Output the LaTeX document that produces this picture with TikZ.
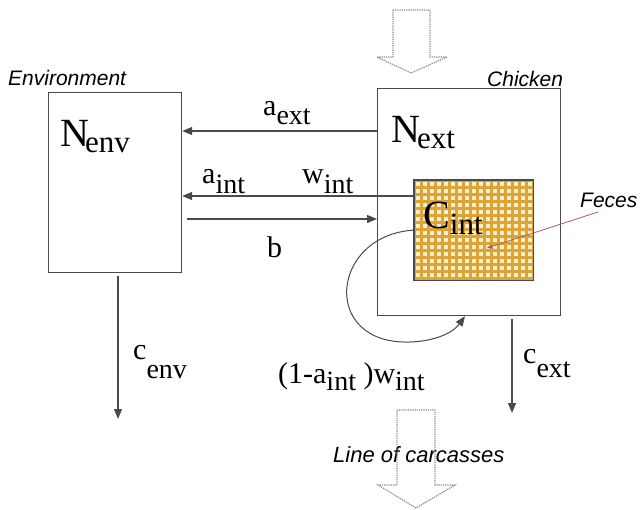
\documentclass[tikz,border=0pt]{standalone}
\usepackage{fontspec}
\setmainfont{Liberation Serif}
\newfontfamily\tagfont{Liberation Sans}
\usepackage{tikz}
\usetikzlibrary{arrows.meta,positioning}

\definecolor{linegray}{HTML}{4A4A4A}
\definecolor{feceslight}{HTML}{FBF0C4}
\definecolor{fecesdark}{HTML}{DCA33A}
\definecolor{pointer}{HTML}{A55A78}
\definecolor{hollowgray}{HTML}{8C8C8C}

% big state symbols (N, C) and flow symbols (a, c, w) with lowered index
\newcommand{\bigsub}[3][0pt]{\fontsize{40}{44}\selectfont #2\kern#1\raisebox{-6pt}{\fontsize{31}{34}\selectfont #3}}
\newcommand{\flowsub}[3][9pt]{\fontsize{30}{34}\selectfont #2\raisebox{-#1}{\fontsize{28}{32}\selectfont #3}}

\begin{document}
\begin{tikzpicture}[
    x=1pt, y=-1pt,
    box/.style={rectangle, draw=linegray, line width=1.2pt, inner sep=0pt, anchor=north west},
    arr/.style={-{Triangle[length=10pt,width=8pt]}, draw=linegray, line width=1.2pt},
    lbl/.style={anchor=base west, inner sep=0pt},
    tag/.style={anchor=base west, inner sep=0pt, font=\tagfont\itshape\fontsize{21}{25}\selectfont},
    ptr/.style={-{Stealth[length=6pt,width=5pt]}, draw=pointer, line width=0.8pt},
    hollow/.style={draw=hollowgray, densely dotted, line width=1.2pt}
]
    \useasboundingbox (0,0) rectangle (642,509);

    % compartments
    \node[box, minimum width=133pt, minimum height=180pt] (env) at (48,92) {};
    \node[box, minimum width=183pt, minimum height=227pt] (chicken) at (377,88) {};
    \node[box, draw=none, fill=fecesdark, minimum width=118pt, minimum height=99pt] (cint) at (414,180) {};
    \begin{scope}
        \clip (cint.north west) rectangle (cint.south east);
        \foreach \i in {0,...,16}
            \foreach \j in {0,...,14}
                \fill[feceslight] ({414+\i*7+1.5},{180+\j*7+1.5}) rectangle ++(4,4);
    \end{scope}
    \draw[linegray, line width=1.2pt] (cint.north west) rectangle (cint.south east);

    % titles
    \node[tag] (envtag) at (8,85) {Environment};
    \node[tag] (chickentag) at (487,86) {Chicken};
    \node[tag] (feces) at (580,207) {Feces};
    \node[tag, font=\tagfont\itshape\fontsize{22}{26}\selectfont] (carcass) at (333,462) {Line of carcasses};

    % state symbols
    \node[lbl] (nenv) at (60,146) {\bigsub[-4pt]{N}{env}};
    \node[lbl] (next) at (391,142) {\bigsub[-3pt]{N}{ext}};
    \node[lbl] (cintlbl) at (423,228) {\bigsub{C}{int}};

    % flow symbols
    \node[lbl] (aext) at (263,115) {\flowsub{a}{ext}};
    \node[lbl] (aint) at (202,183) {\flowsub[10pt]{a}{int}};
    \node[lbl] (wint) at (302,183) {\flowsub[10pt]{w}{int}};
    \node[lbl] (blbl) at (267,257) {\fontsize{30}{34}\selectfont b};
    \node[lbl] (cenv) at (133,359) {\flowsub[19pt]{c}{env}};
    \node[lbl] (cext) at (523,363) {\flowsub[14pt]{c}{ext}};
    \node[lbl] (leak) at (278,383) {\flowsub[7pt]{(1-a}{int}\fontsize{30}{34}\selectfont\ )\flowsub[7pt]{w}{int}};

    % flows
    \coordinate (envsink) at (118,419);
    \coordinate (chksink) at (512,413);
    \coordinate (fecespt) at (487,248);
    \draw[arr] (chicken.west |- 0,131) -- (env.east |- 0,131);
    \draw[arr] (cint.west |- 0,196) -- (env.east |- 0,196);
    \draw[arr, shorten <=5pt] (env.east |- 0,219) -- (chicken.west |- 0,219);
    \draw[arr, shorten <=3pt] (env.south -| envsink) -- (envsink);
    \draw[arr, shorten <=3pt] (chicken.south -| chksink) -- (chksink);
    \draw[arr, line width=1pt] (cint.west) .. controls (330,235) and (320,345) .. (410,342)
        .. controls (440,341) and (455,330) .. (chicken.south -| 465,0);
    \draw[ptr] ([xshift=18pt,yshift=-5pt]feces.base west) -- (fecespt);

    % in and out of the chicken
    \draw[hollow] (393,10) -- (430,10) -- (430,57) -- (447,57) -- (411,73) -- (377,57) -- (393,57) -- cycle;
    \draw[hollow] (397,410) -- (435,410) -- (435,485) -- (455,485) -- (416,508) -- (378,485) -- (397,485) -- cycle;
\end{tikzpicture}
\end{document}
